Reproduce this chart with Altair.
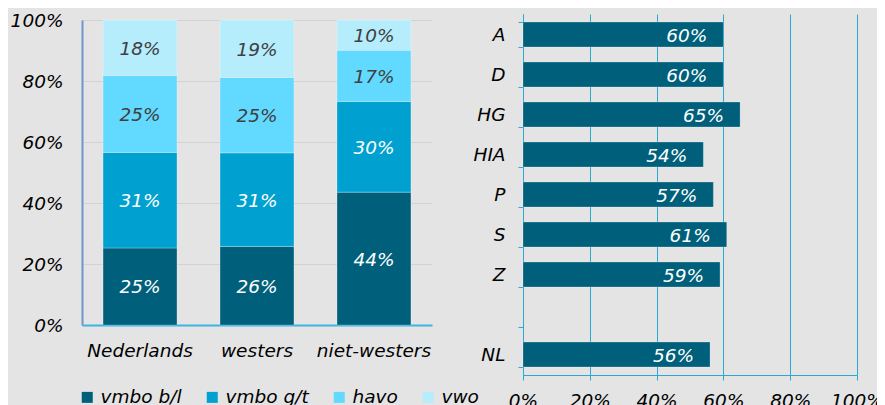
import altair as alt
import pandas as pd

# ---- data ----
groups = ["Nederlands", "westers", "niet-westers"]
levels = ["vmbo b/l", "vmbo g/t", "havo", "vwo"]
vmbo_bl = [25, 26, 44]
vmbo_gt = [31, 31, 30]
havo = [25, 25, 17]
vwo = [18, 19, 10]

regions = ["A", "D", "HG", "HIA", "P", "S", "Z", " ", "NL"]
region_values = [60, 60, 65, 54, 57, 61, 59, None, 56]

level_colors = ["#005f7b", "#00a1d0", "#62daff", "#b6edfc"]
text_colors = ["#ffffff", "#ffffff", "#404040", "#404040"]

FONT = "DejaVu Sans"
FS = 18.5

rows = []
for gi, g in enumerate(groups):
    for li, (lev, series) in enumerate(zip(levels, [vmbo_bl, vmbo_gt, havo, vwo])):
        rows.append({"group": g, "level": lev, "value": series[gi], "order": li,
                     "tc": text_colors[li]})
df_left = pd.DataFrame(rows)

df_right = pd.DataFrame([{"region": r, "value": v} for r, v in zip(regions, region_values) if v is not None])

# ---- left chart: stacked 100% bars ----
x_left = alt.X("group:N", sort=groups,
               scale=alt.Scale(domain=groups, paddingInner=0.368, paddingOuter=0.18),
               axis=alt.Axis(title=None, labelAngle=0, ticks=False, grid=False,
                             domainColor="#3cb3e0", domainWidth=2, labelPadding=16,
                             labelFontSize=FS, labelFontStyle="italic", labelColor="#000000",
                             labelFont=FONT))

base_l = alt.Chart(df_left)
bars_l = base_l.mark_bar(stroke="#ffffff", strokeOpacity=0.25, strokeWidth=1).encode(
    x=x_left,
    y=alt.Y("value:Q", stack="normalize",
            scale=alt.Scale(domain=[0, 1], range=[311, 6], nice=False),
            axis=alt.Axis(title=None, format=".0%", values=[0, 0.2, 0.4, 0.6, 0.8, 1.0],
                          ticks=False, grid=True, gridColor="#d2d2d2", gridWidth=1,
                          domainColor="#6f95cb", domainWidth=2, labelPadding=19,
                          labelFontSize=FS, labelFontStyle="italic", labelColor="#000000",
                          labelFont=FONT)),
    color=alt.Color("level:N", sort=levels,
                    scale=alt.Scale(domain=levels, range=level_colors),
                    legend=alt.Legend(orient="none", legendX=-4, legendY=374,
                                      direction="horizontal", columns=4, title=None,
                                      symbolType="square", symbolSize=121,
                                      symbolStrokeWidth=0, symbolOpacity=1,
                                      labelFontSize=FS, labelFontStyle="italic",
                                      labelFont=FONT, labelColor="#000000",
                                      labelOffset=4, columnPadding=21)),
    order=alt.Order("order:Q"),
)

text_l = base_l.transform_stack(
    stack="value", groupby=["group"], as_=["y0", "y1"],
    sort=[alt.SortField("order", order="ascending")], offset="normalize"
).transform_calculate(
    mid="(datum.y0 + datum.y1) / 2", label="datum.value + '%'"
).mark_text(baseline="middle", align="center", fontSize=FS, fontStyle="italic",
            font=FONT, dy=1).encode(
    x=x_left,
    y=alt.Y("mid:Q", scale=alt.Scale(domain=[0, 1], range=[311, 6], nice=False)),
    text="label:N",
    color=alt.Color("tc:N", scale=None),
)

left = alt.layer(bars_l, text_l).properties(width=350, height=311)

# ---- right chart: horizontal bars ----
y_right = alt.Y("region:N", sort=regions,
                scale=alt.Scale(domain=regions, paddingInner=0.375, paddingOuter=0.2),
                axis=alt.Axis(title=None, tickBand="extent", tickSize=5, ticks=True,
                              tickColor="#29a9d6", domainColor="#29a9d6", grid=False,
                              labelPadding=13, labelFontSize=FS, labelFontStyle="italic",
                              labelColor="#000000", labelFont=FONT))
x_right = alt.X("value:Q", scale=alt.Scale(domain=[0, 100], nice=False),
                axis=alt.Axis(title=None, values=[0, 20, 40, 60, 80, 100],
                              labelExpr="datum.value + '%'", grid=True,
                              gridColor="#29a9d6", gridWidth=1, tickSize=5,
                              tickColor="#29a9d6", domainColor="#29a9d6",
                              labelOverlap=False, labelFlush=False,
                              labelPadding=11, labelFontSize=FS, labelFontStyle="italic",
                              labelColor="#000000", labelFont=FONT))

base_r = alt.Chart(df_right)
bars_r = base_r.mark_bar(color="#005f7b", stroke="#ffffff", strokeOpacity=0.25,
                         strokeWidth=1).encode(x=x_right, y=y_right)
text_r = base_r.transform_calculate(label="datum.value + '%'").mark_text(
    align="right", baseline="middle", dx=-16, dy=1, fontSize=FS, fontStyle="italic",
    font=FONT, color="#ffffff").encode(x=x_right, y=y_right, text="label:N")

right = alt.layer(bars_r, text_r).properties(width=334, height=361)

chart = alt.hconcat(left, right, spacing=91, bounds="flush").properties(
    autosize=alt.AutoSizeParams(type="none"),
    padding={"left": 74, "top": 6, "right": 795, "bottom": 391}
).configure(
    background="#e4e4e4", font=FONT
).configure_view(stroke=None)

chart.save("out.html", embed_options={"renderer": "svg", "actions": False})
